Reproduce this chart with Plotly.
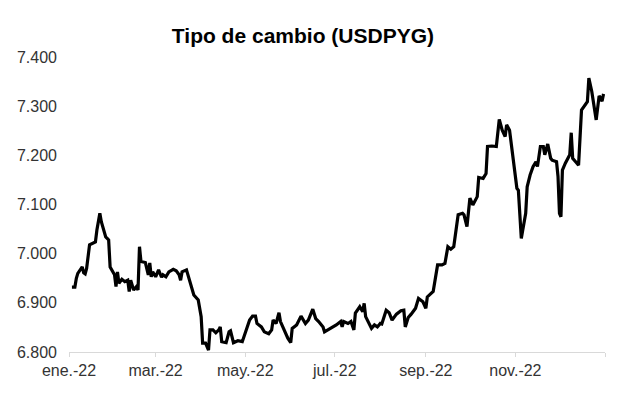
import plotly.graph_objects as go

dates = [
    "2022-01-03", "2022-01-05", "2022-01-06", "2022-01-07", "2022-01-10", "2022-01-11",
    "2022-01-12", "2022-01-13", "2022-01-15", "2022-01-17", "2022-01-19", "2022-01-20",
    "2022-01-22", "2022-01-23", "2022-01-26", "2022-01-28", "2022-01-29", "2022-02-01",
    "2022-02-02", "2022-02-03", "2022-02-04", "2022-02-06", "2022-02-08", "2022-02-10",
    "2022-02-11", "2022-02-12", "2022-02-14", "2022-02-16", "2022-02-17", "2022-02-18",
    "2022-02-19", "2022-02-22", "2022-02-24", "2022-02-25", "2022-02-26", "2022-02-27",
    "2022-03-01", "2022-03-03", "2022-03-05", "2022-03-06", "2022-03-08", "2022-03-10",
    "2022-03-13", "2022-03-15", "2022-03-17", "2022-03-18", "2022-03-19", "2022-03-22",
    "2022-03-23", "2022-03-26", "2022-03-27", "2022-03-30", "2022-04-01", "2022-04-02",
    "2022-04-04", "2022-04-06", "2022-04-07", "2022-04-09", "2022-04-11", "2022-04-13",
    "2022-04-14", "2022-04-15", "2022-04-18", "2022-04-20", "2022-04-21", "2022-04-23",
    "2022-04-26", "2022-04-29", "2022-05-02", "2022-05-04", "2022-05-06", "2022-05-08",
    "2022-05-09", "2022-05-12", "2022-05-14", "2022-05-17", "2022-05-19", "2022-05-20",
    "2022-05-22", "2022-05-24", "2022-05-25", "2022-05-28", "2022-05-30", "2022-06-01",
    "2022-06-02", "2022-06-05", "2022-06-08", "2022-06-11", "2022-06-13", "2022-06-16",
    "2022-06-18", "2022-06-20", "2022-06-23", "2022-06-24", "2022-06-27", "2022-07-02",
    "2022-07-05", "2022-07-06", "2022-07-07", "2022-07-10", "2022-07-12", "2022-07-14",
    "2022-07-15", "2022-07-18", "2022-07-20", "2022-07-21", "2022-07-22", "2022-07-25",
    "2022-07-26", "2022-07-28", "2022-07-30", "2022-08-01", "2022-08-02", "2022-08-05",
    "2022-08-07", "2022-08-09", "2022-08-12", "2022-08-15", "2022-08-17", "2022-08-18",
    "2022-08-20", "2022-08-22", "2022-08-25", "2022-08-27", "2022-08-30", "2022-09-01",
    "2022-09-02", "2022-09-06", "2022-09-09", "2022-09-12", "2022-09-14", "2022-09-16",
    "2022-09-18", "2022-09-20", "2022-09-23", "2022-09-26", "2022-09-27", "2022-09-29",
    "2022-10-01", "2022-10-03", "2022-10-06", "2022-10-07", "2022-10-10", "2022-10-12",
    "2022-10-13", "2022-10-16", "2022-10-19", "2022-10-21", "2022-10-23", "2022-10-25",
    "2022-10-26", "2022-10-28", "2022-10-30", "2022-11-02", "2022-11-03", "2022-11-05",
    "2022-11-06", "2022-11-08", "2022-11-09", "2022-11-11", "2022-11-13", "2022-11-15",
    "2022-11-16", "2022-11-18", "2022-11-20", "2022-11-21", "2022-11-23", "2022-11-25",
    "2022-11-26", "2022-11-29", "2022-11-30", "2022-12-01", "2022-12-02", "2022-12-03",
    "2022-12-05", "2022-12-07", "2022-12-08", "2022-12-09", "2022-12-10", "2022-12-12",
    "2022-12-14", "2022-12-16", "2022-12-18", "2022-12-20", "2022-12-21", "2022-12-23",
    "2022-12-26", "2022-12-28", "2022-12-30", "2022-12-31",
]

usdpyg = [
    6932, 6932, 6950, 6960, 6973, 6961,
    6959, 6970, 7018, 7021, 7024, 7048,
    7082, 7065, 7034, 7028, 6973, 6957,
    6933, 6963, 6940, 6948, 6943, 6946,
    6923, 6946, 6926, 6933, 6926, 7014,
    6984, 6982, 6957, 6981, 6953, 6963,
    6953, 6967, 6952, 6957, 6953, 6963,
    6968, 6965, 6957, 6946, 6963, 6967,
    6957, 6923, 6916, 6906, 6872, 6818,
    6818, 6804, 6845, 6845, 6839, 6845,
    6851, 6821, 6819, 6841, 6843, 6819,
    6823, 6821, 6845, 6865, 6873, 6873,
    6858, 6851, 6841, 6837, 6845, 6865,
    6858, 6880, 6862, 6841, 6828, 6819,
    6848, 6855, 6873, 6858, 6865, 6887,
    6868, 6862, 6851, 6841, 6846, 6855,
    6862, 6851, 6862, 6858, 6862, 6845,
    6879, 6892, 6882, 6899, 6872, 6855,
    6848, 6855, 6851, 6858, 6857, 6885,
    6880, 6865, 6877, 6884, 6885, 6851,
    6870, 6877, 6889, 6909, 6902, 6889,
    6912, 6923, 6977, 6977, 6980, 7014,
    7009, 7014, 7079, 7082, 7079, 7055,
    7113, 7099, 7116, 7155, 7153, 7163,
    7218, 7219, 7218, 7273, 7251, 7238,
    7262, 7251, 7207, 7133, 7129, 7031,
    7048, 7082, 7136, 7160, 7177, 7187,
    7177, 7218, 7218, 7201, 7223, 7194,
    7190, 7187, 7157, 7082, 7075, 7170,
    7184, 7194, 7201, 7246, 7194, 7187,
    7180, 7292, 7302, 7309, 7357, 7330,
    7272, 7321, 7310, 7325,
]

tick_dates = ["2022-01-01", "2022-03-01", "2022-05-01", "2022-07-01",
              "2022-09-01", "2022-11-01", "2023-01-01"]
tick_labels = ["ene.-22", "mar.-22", "may.-22", "jul.-22", "sep.-22", "nov.-22", ""]

y_ticks = [6800, 6900, 7000, 7100, 7200, 7300, 7400]

font_family = "Liberation Sans, Arial, sans-serif"

fig = go.Figure()
fig.add_trace(go.Scatter(
    x=dates, y=usdpyg, mode="lines",
    line=dict(color="black", width=3.2),
    showlegend=False,
))

fig.update_layout(
    width=617, height=395,
    margin=dict(l=61, r=20, t=49, b=51, autoexpand=False),
    paper_bgcolor="white", plot_bgcolor="white",
    separators=",.",
    font=dict(family=font_family, size=16, color="#333333"),
    title=dict(
        text="<b>Tipo de cambio (USDPYG)</b>",
        font=dict(family=font_family, size=21, color="black"),
        x=0.478, xref="container", xanchor="center",
        y=0.929, yref="container", yanchor="middle",
    ),
    xaxis=dict(
        type="date",
        range=["2022-01-01", "2023-01-01"],
        tickvals=tick_dates, ticktext=tick_labels,
        showgrid=False, zeroline=False, automargin=False,
        showline=True, linecolor="#d9d9d9", linewidth=1,
        ticks="outside", ticklen=4, tickcolor="#d9d9d9",
        tickfont=dict(size=16, color="#333333"),
    ),
    yaxis=dict(
        range=[6800, 7400],
        tickvals=y_ticks, tickformat=",.0f",
        showgrid=False, zeroline=False, showline=False, automargin=False,
        ticks="", ticklabelstandoff=11,
        tickfont=dict(size=16, color="#333333"),
    ),
)

fig.write_html("out.html")
